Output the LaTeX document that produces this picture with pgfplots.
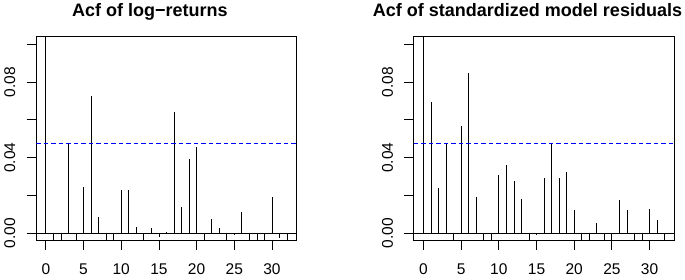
\documentclass[border=0pt]{standalone}
\usepackage{fontspec}
\setmainfont{Liberation Sans}
\usepackage{xcolor}
\usepackage{pgfplots}
\usepackage{pgfplotstable}
\pgfplotsset{compat=1.18}
\definecolor{rblue}{RGB}{0,0,255}

\pgfplotstableread{
lag acf
0 1
1 -0.01
2 -0.01
3 0.0474
4 -0.01
5 0.0246
6 0.0726
7 0.0085
8 -0.01
9 -0.01
10 0.0227
11 0.0230
12 0.0035
13 -0.01
14 0.0028
15 -0.0018
16 0.0005
17 0.0639
18 0.0138
19 0.0393
20 0.0458
21 -0.01
22 0.0076
23 0.0027
24 -0.01
25 -0.0012
26 0.0110
27 -0.01
28 -0.01
29 -0.01
30 0.0189
31 -0.0027
32 -0.01
}\acfleft

\pgfplotstableread{
lag acf
0 1
1 0.0692
2 0.0239
3 0.0474
4 -0.01
5 0.0568
6 0.0848
7 0.0189
8 -0.01
9 -0.01
10 0.0308
11 0.0363
12 0.0276
13 0.0179
14 -0.01
15 -0.0008
16 0.0294
17 0.0474
18 0.0292
19 0.0326
20 0.0122
21 -0.01
22 -0.01
23 0.0053
24 -0.01
25 -0.01
26 0.0177
27 0.0120
28 -0.01
29 -0.01
30 0.0129
31 0.0071
32 -0.01
}\acfright

\pgfplotstableread{
x y
-1.28 0.0474
33.28 0.0474
}\ciline

\pgfplotsset{acfstyle/.style={
  scale only axis, width=260.5bp, height=204bp,
  xmin=-1.28, xmax=33.28, ymin=-0.004, ymax=0.104,
  xtick={0,5,10,15,20,25,30},
  xticklabels={0,5,10,15,20,25,30},
  ytick={0,0.02,0.04,0.06,0.08,0.1},
  yticklabels={{0.00},{},{0.04},{},{0.08},{}},
  /pgf/number format/assume math mode=true,
  tick align=outside, xtick pos=left, ytick pos=left,
  major tick length=9.5bp,
  tick style={black, line width=0.8bp},
  axis line style={line width=0.8bp},
  ticklabel style={font=\fontsize{15.5bp}{18bp}\selectfont},
  xticklabel style={anchor=base, yshift=-24.5bp},
  yticklabel style={xshift=-11.5bp, rotate=90, anchor=base},
  clip=true,
}}

\begin{document}
\begin{tikzpicture}
\useasboundingbox (0,0) rectangle (685bp,280bp);
\begin{axis}[acfstyle, at={(36.2bp,39.3bp)}, anchor=south west]
\addplot[black, line width=0.8bp] coordinates {(-1.28,0) (33.28,0)};
\addplot[ycomb, black, line width=0.8bp, mark=none] table[x=lag, y=acf] {\acfleft};
\addplot[draw=rblue, line width=1.1bp, dash pattern=on 4.5bp off 3bp, mark=none] table[x=x, y=y] {\ciline};
\end{axis}
\begin{axis}[acfstyle, at={(413.8bp,39.3bp)}, anchor=south west]
\addplot[black, line width=0.8bp] coordinates {(-1.28,0) (33.28,0)};
\addplot[ycomb, black, line width=0.8bp, mark=none] table[x=lag, y=acf] {\acfright};
\addplot[draw=rblue, line width=1.1bp, dash pattern=on 4.5bp off 3bp, mark=none] table[x=x, y=y] {\ciline};
\end{axis}
\node[font=\bfseries\fontsize{18bp}{21bp}\selectfont, anchor=base, inner sep=0pt] at (150bp,263.3bp) {Acf of log−returns};
\node[font=\bfseries\fontsize{18bp}{21bp}\selectfont, anchor=base, inner sep=0pt] at (527.5bp,263.3bp) {Acf of standardized model residuals};
\end{tikzpicture}
\end{document}
